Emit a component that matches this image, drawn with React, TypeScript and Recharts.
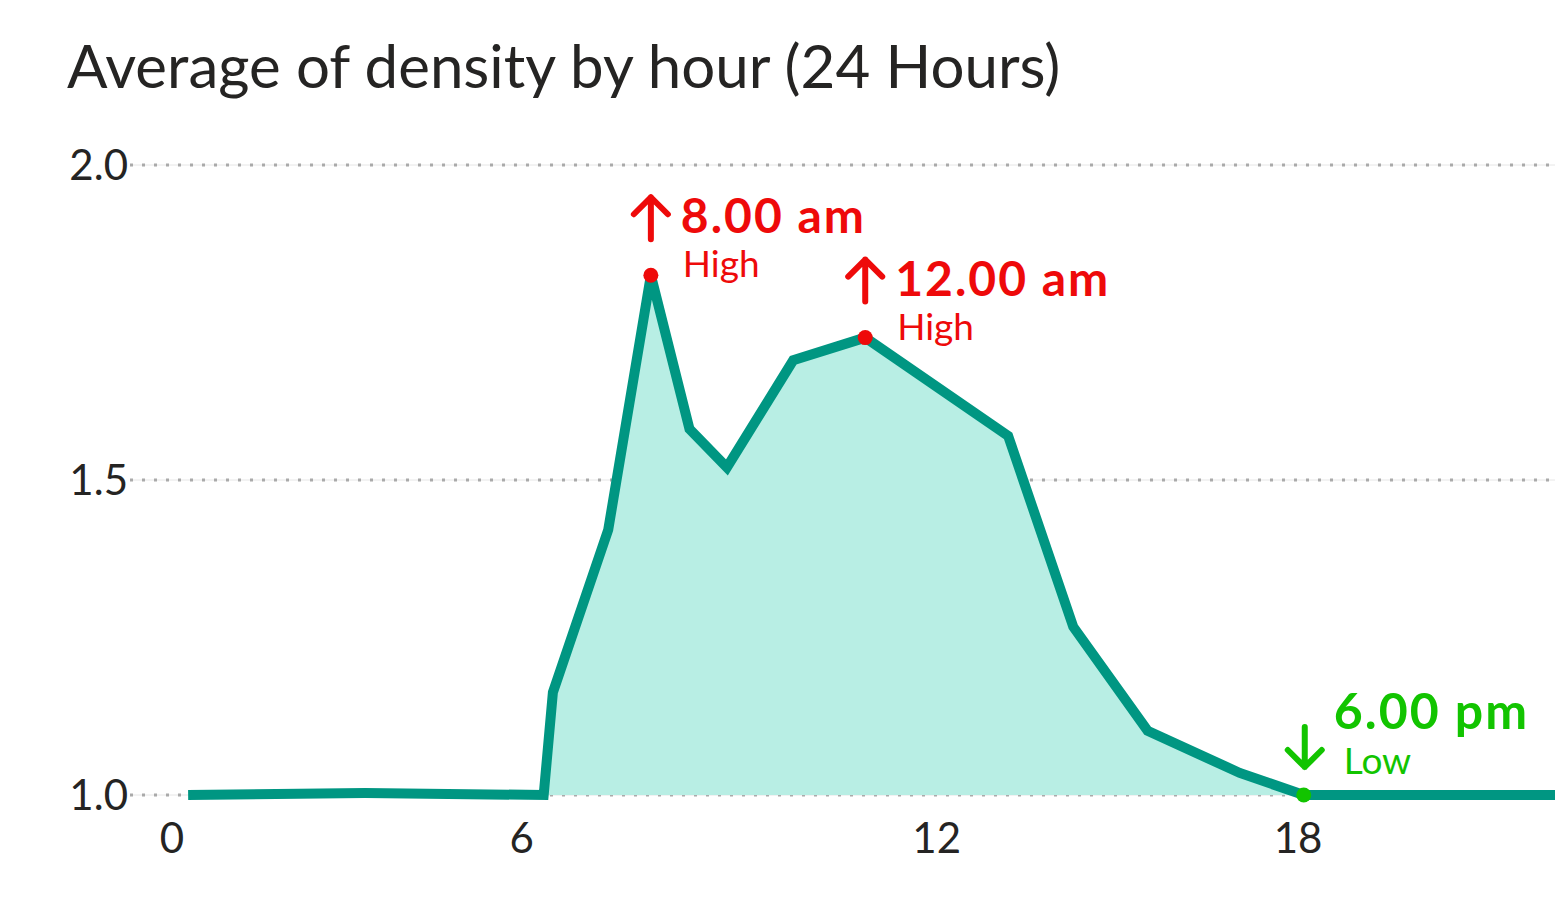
import { AreaChart, Area, XAxis, YAxis, CartesianGrid } from "recharts";

// hour of day (x) and average density (y)
const HOURS = [0.28, 3.35, 6.45, 6.61, 7.57, 8.31, 8.98, 9.63, 10.78, 12.03, 14.51, 15.64, 16.93, 18.53, 19.64, 24];
const DENSITY = [1.0, 1.003, 1.0, 1.163, 1.421, 1.825, 1.581, 1.52, 1.69, 1.726, 1.57, 1.267, 1.102, 1.035, 1.0, 1.0];

// axis ticks (the reference places its hour labels a little unevenly)
const X_TICKS = [0, 6.07, 13.27, 19.54];
const X_TICK_LABELS = ["0", "6", "12", "18"];
const Y_TICKS = [1.0, 1.5, 2.0];

// annotated points: index into the series above
const HIGHLIGHTS = [
  { index: 5, label: "8.00 am", note: "High", kind: "high" },
  { index: 9, label: "12.00 am", note: "High", kind: "high" },
  { index: 14, label: "6.00 pm", note: "Low", kind: "low" },
];

const data = HOURS.map((h, i) => ({ hour: h, density: DENSITY[i] }));

const FONT = "Lato, 'Open Sans', sans-serif";
const TEXT = "#252423";
const LINE = "#009682";
const FILL = "#B8EEE4";
const RED = "#EE0A0A";
const GREEN = "#12C400";

interface DotProps {
  cx?: number;
  cy?: number;
  index?: number;
}

function HighlightDot({ cx, cy, index }: DotProps) {
  const h = HIGHLIGHTS.find((d) => d.index === index);
  if (!h || cx == null || cy == null) return <g key={`d-${index}`} />;
  const high = h.kind === "high";
  const color = high ? RED : GREEN;
  const arrow = high
    ? `M${cx},${cy - 36} L${cx},${cy - 78} M${cx - 17},${cy - 61} L${cx},${cy - 78} L${cx + 17},${cy - 61}`
    : `M${cx + 1},${cy - 68} L${cx + 1},${cy - 28} M${cx - 16},${cy - 45} L${cx + 1},${cy - 28} L${cx + 18},${cy - 45}`;
  return (
    <g key={`d-${index}`}>
      <path d={arrow} stroke={color} strokeWidth={6} fill="none" strokeLinecap="round" strokeLinejoin="round" />
      <circle cx={cx} cy={cy} r={7.5} fill={color} />
      <text
        x={cx + 30}
        y={high ? cy - 42 : cy - 66}
        fill={color}
        fontFamily={FONT}
        fontWeight={700}
        fontSize={high ? 48 : 50}
        letterSpacing={2}
      >
        {h.label}
      </text>
      <text
        x={cx + (high ? 32 : 40)}
        y={high ? cy + 2 : cy - 21}
        fill={color}
        fontFamily={FONT}
        fontSize={37}
      >
        {h.note}
      </text>
    </g>
  );
}

export default function App() {
  return (
    <div style={{ position: "absolute", left: 0, top: 0, width: 1555, height: 904, background: "#fff", fontFamily: FONT }}>
      <div
        style={{
          position: "absolute",
          left: 67,
          top: 30,
          fontSize: 60,
          lineHeight: "70px",
          color: TEXT,
          whiteSpace: "nowrap",
        }}
      >
        Average of density by hour (24 Hours)
      </div>
      <AreaChart
        width={1555}
        height={904}
        data={data}
        margin={{ top: 165, right: 0, bottom: 0, left: 0 }}
        style={{ position: "absolute", left: 0, top: 0 }}
      >
        <CartesianGrid horizontal vertical={false} stroke="#e6e6e6" strokeWidth={1} />
        <CartesianGrid horizontal vertical={false} stroke="#aaaaaa" strokeWidth={3} strokeDasharray="3 9" />
        <XAxis
          dataKey="hour"
          type="number"
          domain={[0, 24]}
          ticks={X_TICKS}
          tickFormatter={(v: number) => X_TICK_LABELS[X_TICKS.indexOf(v)] ?? ""}
          padding={{ left: 42, right: 0 }}
          axisLine={false}
          tickLine={false}
          tickSize={0}
          tickMargin={28}
          height={109}
          tick={{ fontSize: 42, fill: TEXT, fontFamily: FONT }}
          interval={0}
        />
        <YAxis
          type="number"
          domain={[1, 2]}
          ticks={Y_TICKS}
          tickFormatter={(v: number) => v.toFixed(1)}
          axisLine={false}
          tickLine={false}
          tickSize={0}
          tickMargin={2}
          width={130}
          tick={{ fontSize: 42, fill: TEXT, fontFamily: FONT }}
        />
        <Area
          type="linear"
          dataKey="density"
          stroke={LINE}
          strokeWidth={10}
          fill={FILL}
          fillOpacity={1}
          dot={(p: DotProps) => <HighlightDot key={`d-${p.index}`} {...p} />}
          activeDot={false}
          isAnimationActive={false}
        />
      </AreaChart>
    </div>
  );
}
